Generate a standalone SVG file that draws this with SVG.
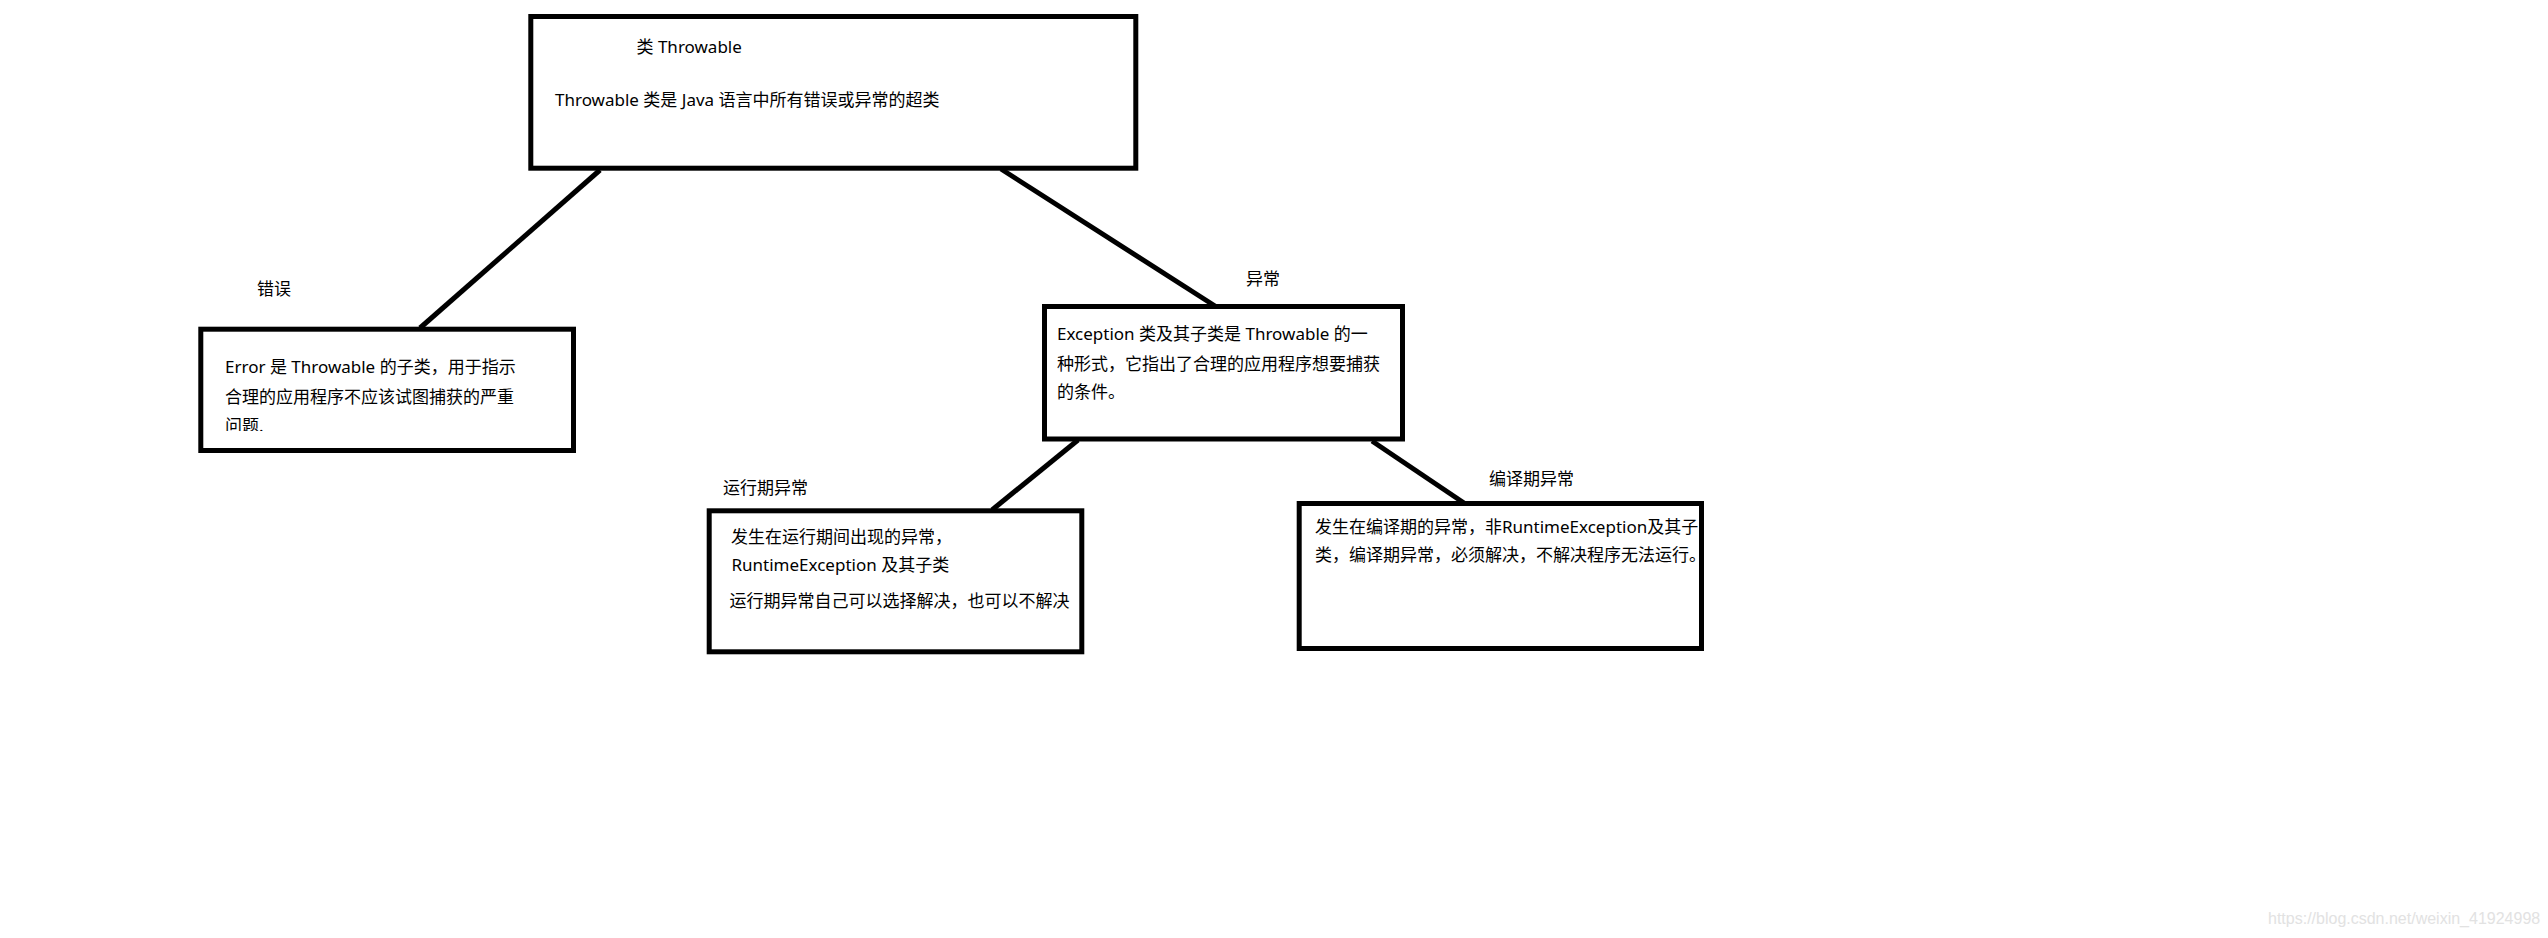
<svg xmlns="http://www.w3.org/2000/svg" width="2548" height="938" viewBox="0 0 2548 938">
<style>
  .box { fill: none; stroke: #000; stroke-width: 5; }
  .conn { stroke: #000; stroke-width: 5; fill: none; }
  text { font-family: "Noto Sans", "Noto Sans CJK SC", sans-serif; fill: #000; }
  .t17 { font-size: 17px; }
  .wm { font-family: "Liberation Sans", Arial, sans-serif; font-size: 16px; fill: #e2e2e2; }
</style>
<defs>
  <clipPath id="errClip"><rect x="200" y="329" width="374" height="102"/></clipPath>
</defs>
<rect x="0" y="0" width="2548" height="938" fill="#fff"/>
<g id="connectors">
  <line class="conn" x1="600" y1="170" x2="420" y2="328"/>
  <line class="conn" x1="1001" y1="169" x2="1215" y2="306"/>
  <line class="conn" x1="1078" y1="440" x2="992" y2="510"/>
  <line class="conn" x1="1372" y1="441" x2="1464" y2="503"/>
</g>
<g id="throwable">
  <rect class="box" x="530.8" y="16.5" width="605" height="151.7"/>
  <text class="t17" x="636.5" y="53.3">类 Throwable</text>
  <text class="t17" x="555" y="105.7">Throwable 类是 Java 语言中所有错误或异常的超类</text>
</g>
<g id="error">
  <text class="t17" x="257" y="295">错误</text>
  <rect class="box" x="200.8" y="329.2" width="372.7" height="121.3"/>
  <g clip-path="url(#errClip)">
    <text class="t17" x="225" y="373">Error 是 Throwable 的子类，用于指示</text>
    <text class="t17" x="225" y="403">合理的应用程序不应该试图捕获的严重</text>
    <text class="t17" x="225" y="432">问题.</text>
  </g>
</g>
<g id="exception">
  <text class="t17" x="1246" y="284.5">异常</text>
  <rect class="box" x="1044.5" y="306.5" width="358" height="132.5"/>
  <text class="t17" x="1057" y="340">Exception 类及其子类是 Throwable 的一</text>
  <text class="t17" x="1057" y="369.5">种形式，它指出了合理的应用程序想要捕获</text>
  <text class="t17" x="1057" y="398">的条件。</text>
</g>
<g id="runtime">
  <text class="t17" x="723" y="493.5">运行期异常</text>
  <rect class="box" x="709.2" y="510.8" width="372.6" height="141"/>
  <text class="t17" x="731" y="542.5">发生在运行期间出现的异常，</text>
  <text class="t17" x="731.5" y="571">RuntimeException 及其子类</text>
  <text class="t17" x="729.5" y="607">运行期异常自己可以选择解决，也可以不解决</text>
</g>
<g id="compile">
  <text class="t17" x="1489" y="485">编译期异常</text>
  <rect class="box" x="1299.2" y="503.5" width="402.3" height="145"/>
  <text class="t17" x="1315" y="533">发生在编译期的异常，非RuntimeException及其子</text>
  <text class="t17" x="1315" y="561">类，编译期异常，必须解决，不解决程序无法运行。</text>
</g>
<text class="wm" x="2268" y="924">https://blog.csdn.net/weixin_41924998</text>
</svg>
